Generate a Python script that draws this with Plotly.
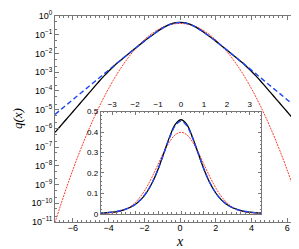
import plotly.graph_objects as go

# ---- data (x >= 0 half, curves are symmetric) ----
x_half = [0.0, 0.25, 0.5, 0.75, 1.0, 1.25, 1.5, 1.75, 2.0, 2.25, 2.5, 2.75, 3.0, 3.25, 3.5,
          3.75, 4.0, 4.25, 4.5, 4.75, 5.0, 5.25, 5.5, 5.75, 6.0, 6.25, 6.5, 6.75, 7.0]

gauss_half = [0.3989, 0.3867, 0.3521, 0.3011, 0.2420, 0.1826, 0.1295, 0.0863, 0.0540,
              0.03174, 0.01753, 0.009094, 0.004432, 0.002029, 8.727e-4, 3.53e-4, 1.338e-4,
              4.77e-5, 1.60e-5, 5.03e-6, 1.487e-6, 4.13e-7, 1.08e-7, 2.64e-8, 6.08e-9,
              1.31e-9, 2.67e-10, 5.09e-11, 9.13e-12]

black_half = [0.460, 0.437, 0.375, 0.296, 0.218, 0.153, 0.104, 0.069, 0.0455, 0.0295,
              0.0190, 0.0122, 0.0078, 0.00497, 0.00316, 0.00191, 0.001122, 6.31e-4,
              3.47e-4, 1.85e-4, 9.80e-5, 5.20e-5, 2.76e-5, 1.46e-5, 7.75e-6, 4.10e-6,
              2.18e-6, 1.15e-6, 6.10e-7]

blue_half = [0.4535, 0.4310, 0.3717, 0.2949, 0.2186, 0.1543, 0.1052, 0.0699, 0.0459,
             0.02960, 0.01904, 0.01220, 0.007793, 0.004968, 0.003163, 0.002017, 1.282e-3,
             8.15e-4, 5.18e-4, 3.29e-4, 2.087e-4, 1.326e-4, 8.43e-5, 5.36e-5, 3.40e-5,
             2.16e-5, 1.375e-5, 8.74e-6, 5.55e-6]

# main-axis tick labels
y_tick_exp = [0, -1, -2, -3, -4, -5, -6, -7, -8, -9, -10, -11]
y_tick_text = ["10<sup>0</sup>", "10<sup>\u22121</sup>", "10<sup>\u22122</sup>",
               "10<sup>\u22123</sup>", "10<sup>\u22124</sup>", "10<sup>\u22125</sup>",
               "10<sup>\u22126</sup>", "10<sup>\u22127</sup>", "10<sup>\u22128</sup>",
               "10<sup>\u22129</sup>", "10<sup>\u221210</sup>", "10<sup>\u221211</sup>"]
x_tick_vals = [-6, -4, -2, 0, 2, 4, 6]
inset_x_ticks = [-3, -2, -1, 0, 1, 2, 3]
inset_y_ticks = [0, 0.1, 0.2, 0.3, 0.4, 0.5]
inset_y_text = ["0", "0.1", "0.2", "0.3", "0.4", "0.5"]


def mirror(xs, ys):
    xx = [-v for v in reversed(xs[1:])] + list(xs)
    yy = list(reversed(ys[1:])) + list(ys)
    return xx, yy


xg, yg = mirror(x_half, gauss_half)
xk, yk = mirror(x_half, black_half)
xb, yb = mirror(x_half, blue_half)

RED = "rgb(255,60,40)"
BLUE = "rgb(30,70,245)"
BLACK = "black"
AX = "#777777"

fig = go.Figure()
for (ax_x, ax_y) in [("x", "y"), ("x2", "y2")]:
    fig.add_trace(go.Scatter(x=xg, y=yg, mode="lines", xaxis=ax_x, yaxis=ax_y,
                             line=dict(color=RED, width=1, dash="2px,1px", shape="spline"),
                             showlegend=False))
    fig.add_trace(go.Scatter(x=xk, y=yk, mode="lines", xaxis=ax_x, yaxis=ax_y,
                             line=dict(color=BLACK, width=1.3, shape="spline"),
                             showlegend=False))
    fig.add_trace(go.Scatter(x=xb, y=yb, mode="lines", xaxis=ax_x, yaxis=ax_y,
                             line=dict(color=BLUE, width=1.4, dash="5px,3px", shape="spline"),
                             showlegend=False))

tickfont = dict(family="Liberation Sans, Arial, sans-serif", size=9, color="black")
small_font = dict(family="Liberation Sans, Arial, sans-serif", size=8, color="black")

fig.update_layout(
    width=299, height=249,
    margin=dict(l=47, r=1, t=5, b=35),
    paper_bgcolor="white", plot_bgcolor="white",
    xaxis=dict(range=[-7, 7], tickvals=x_tick_vals, ticks="inside", ticklen=4,
               tickcolor=AX, showline=True, linecolor=AX, linewidth=1, mirror="allticks",
               showgrid=False, zeroline=False, tickfont=tickfont, ticklabeloverflow="allow",
               ticklabelstandoff=-3,
               minor=dict(dtick=0.25, ticks="inside", ticklen=2, tickcolor=AX, showgrid=False)),
    yaxis=dict(type="log", range=[-11, 0], tickvals=[10 ** e for e in y_tick_exp],
               ticktext=y_tick_text, ticks="inside", ticklen=4, tickcolor=AX,
               showline=True, linecolor=AX, linewidth=1, mirror="allticks",
               showgrid=False, zeroline=False, tickfont=tickfont, ticklabeloverflow="allow",
               minor=dict(ticks="inside", ticklen=2, tickcolor=AX, showgrid=False)),
    xaxis2=dict(domain=[0.183, 0.825], anchor="y2", range=[-3.5, 3.5], side="top",
                tickvals=inset_x_ticks, ticks="inside", ticklen=3, tickcolor=AX,
                showline=True, linecolor=AX, linewidth=1, mirror="allticks",
                showgrid=False, zeroline=False, tickfont=small_font, ticklabeloverflow="allow",
                minor=dict(dtick=0.2, ticks="inside", ticklen=1.5, tickcolor=AX, showgrid=False)),
    yaxis2=dict(domain=[0.040, 0.536], anchor="x2", range=[0, 0.5],
                tickvals=inset_y_ticks, ticktext=inset_y_text, ticks="inside", ticklen=3,
                tickcolor=AX, showline=True, linecolor=AX, linewidth=1, mirror="allticks",
                showgrid=False, zeroline=False, tickfont=small_font, ticklabeloverflow="allow",
                minor=dict(dtick=0.02, ticks="inside", ticklen=1.5, tickcolor=AX, showgrid=False)),
    annotations=[
        dict(text="q(x)", x=0, y=0.5, xref="paper", yref="paper", xanchor="center",
             yanchor="middle", xshift=-38, textangle=-90, showarrow=False,
             font=dict(family="Liberation Serif, Times New Roman, serif", size=13,
                       color="black", style="italic")),
        dict(text="x", x=0.5, y=0, xref="paper", yref="paper", xanchor="center",
             yanchor="middle", yshift=-19, showarrow=False,
             font=dict(family="Liberation Serif, Times New Roman, serif", size=14,
                       color="black", style="italic")),
    ],
)

fig.write_html("out.html")
